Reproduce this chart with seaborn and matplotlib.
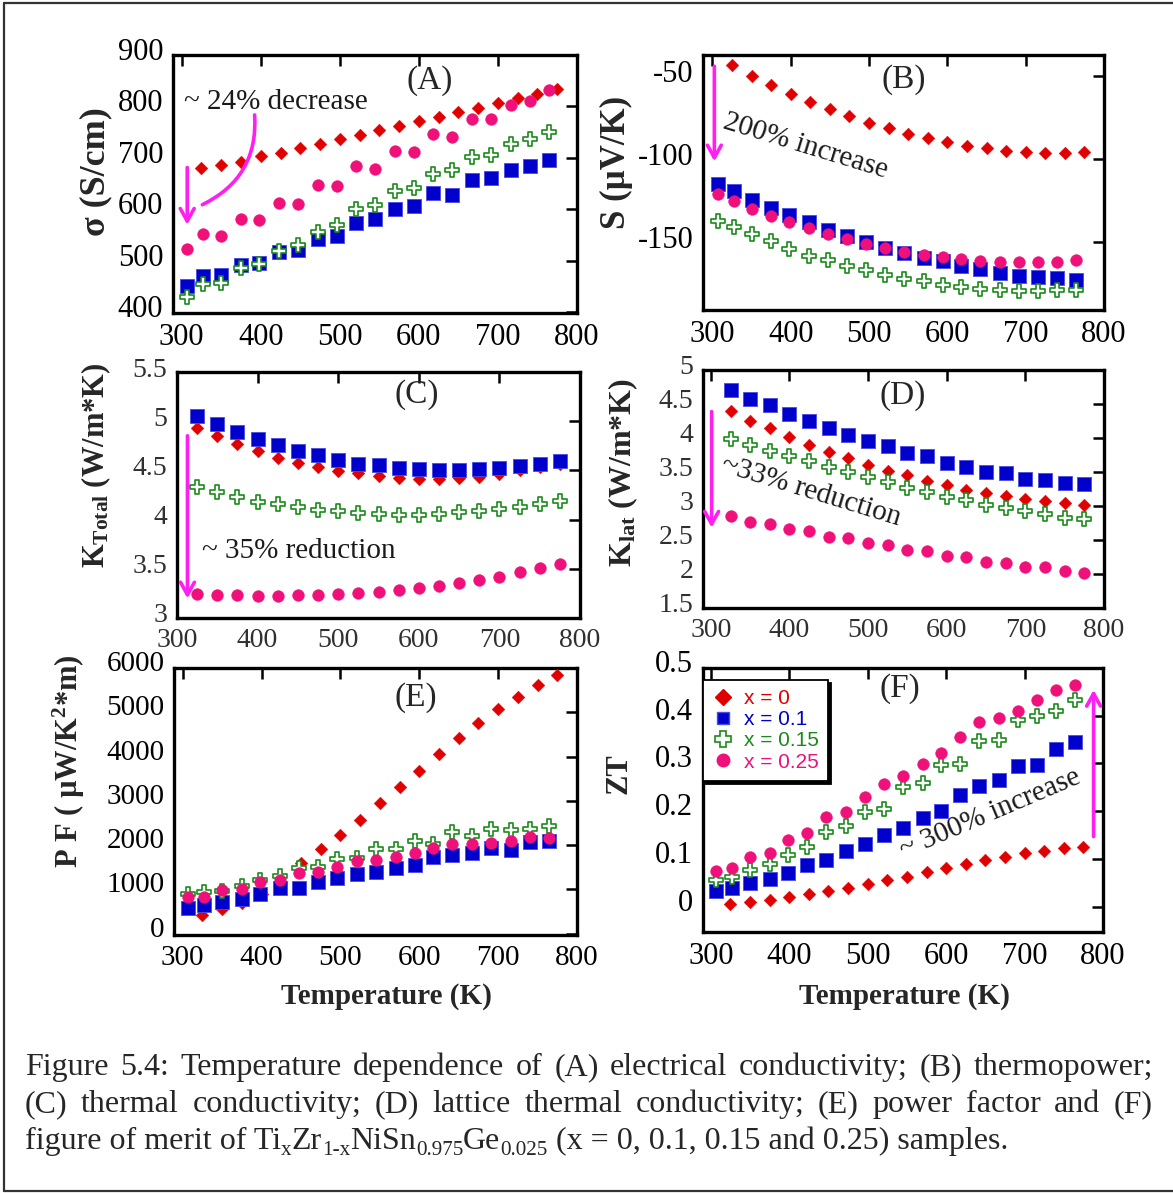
import numpy as np
import pandas as pd
import matplotlib
matplotlib.use("Agg")
import matplotlib.pyplot as plt
import seaborn as sns
from matplotlib.lines import Line2D
from matplotlib.patches import FancyArrowPatch
from matplotlib.ticker import FuncFormatter, FixedLocator
from matplotlib.transforms import ScaledTranslation

# ------------------------------------------------------------------ data
T_X0 = [325, 350, 375, 400, 425, 450, 475, 500, 525, 550, 575, 600, 625, 650, 675, 700, 725, 750, 775]
T_XN = [307, 327, 350, 375, 398, 423, 447, 472, 496, 521, 545, 570, 594, 618, 642, 667, 691, 716, 740, 764]

SERIES_LABELS = ["x = 0", "x = 0.1", "x = 0.15", "x = 0.25"]

# (A) electrical conductivity (S/cm)
SIGMA_X0 = [680, 687, 693, 703, 710, 719, 728, 736, 744, 754, 762, 771, 780, 789, 797, 807, 816, 825, 834]
SIGMA_X01 = [452, 471, 473, 492, 496, 517, 522, 543, 548, 574, 581, 601, 606, 632, 629, 658, 661, 676, 684, 697]
SIGMA_X015 = [431, 456, 458, 486, 494, 520, 531, 557, 570, 600, 608, 635, 642, 668, 677, 702, 705, 728, 736, 751]
SIGMA_X025 = [523, 553, 549, 581, 579, 612, 611, 647, 645, 684, 678, 714, 712, 746, 741, 776, 776, 803, 810, 832]

# (B) thermopower (uV/K)
S_X0 = [-43.4, -50.0, -55.4, -61.0, -65.8, -70.0, -74.0, -78.0, -81.4, -84.8, -87.4, -89.8, -91.8, -93.4, -94.8, -95.6, -96.4, -96.2, -95.8]
S_X01 = [-115.0, -119.4, -124.4, -129.4, -133.4, -138.0, -142.4, -146.4, -150.0, -153.4, -156.4, -159.4, -161.4, -164.4, -166.0, -168.4, -170.0, -170.8, -171.4, -172.4]
S_X015 = [-137.4, -140.8, -145.0, -149.4, -153.8, -158.0, -160.8, -164.0, -166.8, -169.4, -171.8, -173.4, -175.4, -176.8, -177.8, -178.4, -179.0, -179.4, -178.8, -178.8]
S_X025 = [-121.0, -125.0, -129.8, -134.0, -137.8, -141.4, -144.8, -147.8, -150.8, -153.4, -155.8, -157.4, -159.0, -160.0, -161.0, -161.8, -161.8, -161.8, -161.8, -160.8]

# (C) total thermal conductivity (W/m*K)
KTOT_X0 = [4.93, 4.85, 4.77, 4.70, 4.63, 4.58, 4.53, 4.49, 4.47, 4.44, 4.42, 4.41, 4.41, 4.42, 4.43, 4.46, 4.50, 4.53, 4.56]
KTOT_X01 = [5.05, 4.97, 4.89, 4.82, 4.76, 4.70, 4.66, 4.61, 4.57, 4.55, 4.52, 4.51, 4.50, 4.50, 4.51, 4.52, 4.54, 4.57, 4.60]
KTOT_X015 = [4.33, 4.28, 4.23, 4.18, 4.16, 4.13, 4.10, 4.09, 4.07, 4.06, 4.05, 4.05, 4.06, 4.08, 4.09, 4.11, 4.13, 4.16, 4.19]
KTOT_X025 = [3.24, 3.23, 3.23, 3.22, 3.22, 3.23, 3.23, 3.24, 3.25, 3.26, 3.28, 3.30, 3.33, 3.36, 3.39, 3.42, 3.47, 3.51, 3.55]

# (D) lattice thermal conductivity (W/m*K)
KLAT_X0 = [4.39, 4.25, 4.14, 4.02, 3.90, 3.79, 3.70, 3.61, 3.52, 3.45, 3.37, 3.31, 3.24, 3.19, 3.14, 3.10, 3.07, 3.04, 3.01]
KLAT_X01 = [4.71, 4.57, 4.48, 4.35, 4.25, 4.14, 4.05, 3.95, 3.88, 3.78, 3.73, 3.63, 3.58, 3.50, 3.49, 3.40, 3.38, 3.34, 3.32]
KLAT_X015 = [3.99, 3.90, 3.81, 3.73, 3.66, 3.58, 3.50, 3.42, 3.35, 3.26, 3.21, 3.13, 3.09, 3.01, 2.97, 2.92, 2.88, 2.82, 2.81]
KLAT_X025 = [2.85, 2.77, 2.74, 2.66, 2.63, 2.55, 2.53, 2.45, 2.43, 2.35, 2.34, 2.26, 2.25, 2.18, 2.16, 2.11, 2.11, 2.05, 2.01]

# (E) power factor (uW/K^2*m)
PF_X0 = [417, 553, 700, 900, 1150, 1590, 1909, 2220, 2576, 2955, 3311, 3674, 4053, 4409, 4750, 5068, 5356, 5606, 5848]
PF_X01 = [583, 644, 720, 780, 886, 1023, 1038, 1174, 1265, 1341, 1402, 1477, 1553, 1742, 1780, 1818, 1932, 1894, 2061, 2098]
PF_X015 = [886, 947, 970, 1083, 1212, 1311, 1477, 1515, 1682, 1705, 1909, 1909, 2098, 2023, 2288, 2212, 2364, 2348, 2364, 2439]
PF_X025 = [833, 833, 985, 1000, 1174, 1212, 1364, 1386, 1515, 1644, 1667, 1727, 1818, 1932, 2030, 2030, 2045, 2098, 2174, 2159]

# (F) figure of merit ZT
ZT_X0 = [0.006, 0.009, 0.014, 0.021, 0.026, 0.032, 0.040, 0.047, 0.056, 0.063, 0.072, 0.081, 0.089, 0.098, 0.105, 0.112, 0.117, 0.122, 0.125]
ZT_X01 = [0.032, 0.040, 0.049, 0.059, 0.070, 0.088, 0.098, 0.117, 0.132, 0.150, 0.164, 0.185, 0.200, 0.235, 0.253, 0.266, 0.294, 0.296, 0.330, 0.344]
ZT_X015 = [0.056, 0.063, 0.076, 0.089, 0.108, 0.125, 0.156, 0.170, 0.198, 0.205, 0.250, 0.259, 0.297, 0.299, 0.347, 0.349, 0.392, 0.399, 0.410, 0.434]
ZT_X025 = [0.075, 0.081, 0.105, 0.112, 0.140, 0.155, 0.188, 0.199, 0.229, 0.256, 0.274, 0.299, 0.322, 0.356, 0.386, 0.396, 0.410, 0.433, 0.453, 0.464]

X_TICKS = [300, 400, 500, 600, 700, 800]

# ------------------------------------------------------------------ style
sns.set_theme(style="white")
plt.rcParams.update({
    "font.family": ["Liberation Serif", "DejaVu Serif"],
    "mathtext.fontset": "custom",
    "mathtext.rm": "Liberation Serif",
    "mathtext.bf": "Liberation Serif:bold",
    "mathtext.it": "Liberation Serif:italic",
    "axes.unicode_minus": False,
    "axes.edgecolor": "black",
    "axes.linewidth": 2.3,
    "xtick.direction": "in",
    "ytick.direction": "in",
    "xtick.top": True,
    "ytick.right": True,
})

RED = "#e00000"
BLUE = "#0000cc"
GREEN = "#1a8a1a"
PINK = "#f0107a"
MAG = "#ff1ff0"

W, H = 1173, 1193
fig = plt.figure(figsize=(W / 100, H / 100), dpi=100)


def px_axes(left, right, top, bottom):
    return fig.add_axes([left / W, 1 - bottom / H, (right - left) / W, (bottom - top) / H])


def draw_series(ax, temps, values):
    styles = [
        dict(marker="D", s=42, color=RED, edgecolor=RED, linewidth=0.3),
        dict(marker="s", s=90, color=BLUE, edgecolor="#4a4ae6", linewidth=0.6),
        dict(marker="P", s=110, facecolor="white", edgecolor=GREEN, linewidth=1.2),
        dict(marker="o", s=72, color=PINK, edgecolor=PINK, linewidth=0.3),
    ]
    for z, (st, T, v, lab) in enumerate(zip(styles, temps, values, SERIES_LABELS)):
        df = pd.DataFrame({"T": T, "val": v, "sample": lab})
        sns.scatterplot(data=df, x="T", y="val", ax=ax, legend=False, zorder=3 + z, **st)
    ax.set_xlabel("")
    ax.set_ylabel("")


def style_axes(ax, xlim, ylim, yticks, fs=22, fmt="%g", color="black", lift=6):
    ax.set_xlim(*xlim)
    ax.set_ylim(*ylim)
    ax.xaxis.set_major_locator(FixedLocator(X_TICKS))
    ax.yaxis.set_major_locator(FixedLocator(yticks))
    ax.yaxis.set_major_formatter(FuncFormatter(lambda v, p: fmt % v))
    ax.xaxis.set_major_formatter(FuncFormatter(lambda v, p: "%d" % v))
    ax.tick_params(axis="both", which="major", length=8, width=1.8, color="black",
                   labelsize=fs, labelcolor=color, pad=7, top=True, right=True)
    for sp in ax.spines.values():
        sp.set_visible(True)
        sp.set_linewidth(2.4)
        sp.set_color("black")
    off = ScaledTranslation(0, lift / 100, fig.dpi_scale_trans)
    for t in ax.yaxis.get_major_ticks():
        t.label1.set_transform(t.label1.get_transform() + off)


def set_ylab(ax, text, xf, yf, fs=22):
    ax.set_ylabel(text, fontsize=fs, fontweight="bold")
    ax.yaxis.label.set_va("center")
    ax.yaxis.set_label_coords(xf, yf)


def set_xlab(ax, text, xf, yf, fs=21):
    ax.set_xlabel(text, fontsize=fs, fontweight="bold")
    ax.xaxis.label.set_va("center")
    ax.xaxis.set_label_coords(xf, yf)


def arrow(ax, p0, p1):
    a = FancyArrowPatch(p0, p1, arrowstyle="->,head_length=9,head_width=5",
                        color=MAG, lw=2.6, mutation_scale=1, zorder=10)
    ax.add_patch(a)


ann_font = dict(fontsize=21, color="#1a1a1a")

# ---------------- (A)
axA = px_axes(173, 577, 55, 313)
draw_series(axA, [T_X0, T_XN, T_XN, T_XN], [SIGMA_X0, SIGMA_X01, SIGMA_X015, SIGMA_X025])
style_axes(axA, (289, 800), (399, 900), [400, 500, 600, 700, 800, 900])
set_ylab(axA, "σ (S/cm)", -0.19, 0.55, fs=26)
axA.text(614, 851, "(A)", fontsize=24, ha="center", va="center")
axA.text(303, 809, "~ 24% decrease", ha="left", va="center", **ann_font)
arrow(axA, (307, 687), (307, 565))
axA.add_patch(FancyArrowPatch((392, 789), (323, 607), connectionstyle="arc3,rad=-0.35",
                              arrowstyle="-", color=MAG, lw=2.6, zorder=10))

# ---------------- (B)
axB = px_axes(703, 1104, 55, 310)
draw_series(axB, [T_X0, T_XN, T_XN, T_XN], [S_X0, S_X01, S_X015, S_X025])
style_axes(axB, (288, 800), (-190.6, -37.4), [-150, -100, -50], lift=5)
set_ylab(axB, "S (µV/K)", -0.215, 0.58, fs=25)
axB.text(544, -52.4, "(B)", fontsize=24, ha="center", va="center")
axB.text(419, -92, "200% increase", ha="center", va="center", rotation=-17,
         rotation_mode="anchor", **ann_font)
arrow(axB, (302.5, -42.5), (302.5, -103))

# ---------------- (C)
axC = px_axes(177, 580, 372, 618)
draw_series(axC, [T_X0, T_X0, T_X0, T_X0], [KTOT_X0, KTOT_X01, KTOT_X015, KTOT_X025])
style_axes(axC, (300, 800), (3, 5.5), [3, 3.5, 4, 4.5, 5, 5.5], fs=20, color="#303030", lift=5)
set_ylab(axC, r"$\mathbf{K_{Total}}$ (W/m*K)", -0.2, 0.62)
axC.text(597, 5.27, "(C)", fontsize=24, ha="center", va="center")
axC.text(331, 3.68, "~ 35% reduction", ha="left", va="center", **ann_font)
arrow(axC, (313, 4.88), (313, 3.17))

# ---------------- (D)
axD = px_axes(703, 1104, 370, 608)
draw_series(axD, [T_X0, T_X0, T_X0, T_X0], [KLAT_X0, KLAT_X01, KLAT_X015, KLAT_X025])
style_axes(axD, (290, 800), (1.5, 5), [1.5, 2, 2.5, 3, 3.5, 4, 4.5, 5], fs=20, color="#303030", lift=5)
set_ylab(axD, r"$\mathbf{K_{lat}}$ (W/m*K)", -0.2, 0.57, fs=23)
axD.text(544, 4.62, "(D)", fontsize=24, ha="center", va="center")
axD.text(428, 3.22, "~33% reduction", ha="center", va="center", rotation=-17,
         rotation_mode="anchor", **ann_font)
arrow(axD, (301, 4.43), (301, 2.64))

# ---------------- (E)
axE = px_axes(174, 577, 668, 935)
draw_series(axE, [T_X0, T_XN, T_XN, T_XN], [PF_X0, PF_X01, PF_X015, PF_X025])
style_axes(axE, (289, 800), (-30, 6000), [0, 1000, 2000, 3000, 4000, 5000, 6000], fs=21, lift=7)
set_ylab(axE, r"P F ( µW/K$^{\mathbf{2}}$*m)", -0.26, 0.65)
set_xlab(axE, "Temperature (K)", 0.527, -0.232)
axE.text(595, 5340, "(E)", fontsize=24, ha="center", va="center")

# ---------------- (F)
axF = px_axes(703, 1103, 668, 932)
draw_series(axF, [T_X0, T_XN, T_XN, T_XN], [ZT_X0, ZT_X01, ZT_X015, ZT_X025])
style_axes(axF, (290, 800), (-0.053, 0.5), [0, 0.1, 0.2, 0.3, 0.4, 0.5], lift=7)
set_ylab(axF, "ZT", -0.21, 0.6)
set_xlab(axF, "Temperature (K)", 0.503, -0.246)
axF.text(541, 0.457, "(F)", fontsize=24, ha="center", va="center")
axF.text(656, 0.195, "~ 300% increase", ha="center", va="center", rotation=23,
         rotation_mode="anchor", **ann_font)
arrow(axF, (788, 0.141), (788, 0.46))

handles = [
    Line2D([], [], ls="none", marker="D", ms=8, color=RED),
    Line2D([], [], ls="none", marker="s", ms=9, color=BLUE, mec="#4a4ae6"),
    Line2D([], [], ls="none", marker="P", ms=11, mfc="white", mec=GREEN, mew=1.2),
    Line2D([], [], ls="none", marker="o", ms=9, color=PINK),
]
leg = axF.legend(handles, SERIES_LABELS, loc="upper left", bbox_to_anchor=(0.0, 0.955),
                 prop={"family": "Liberation Sans", "size": 15},
                 labelcolor=[RED, BLUE, GREEN, PINK], frameon=True, fancybox=False,
                 edgecolor="black", framealpha=1, shadow={"color": "black", "alpha": 1},
                 handlelength=1.0, handletextpad=0.5, labelspacing=0.1,
                 borderpad=0.45, borderaxespad=0)
leg.get_frame().set_linewidth(1.3)
leg.set_zorder(20)

# ------------------------------------------------------------------ border
for xs, ys in [((4, 4), (3, 1191)), ((4, 1173), (3, 3)), ((4, 1173), (1191, 1191))]:
    fig.add_artist(Line2D([x / W for x in xs], [1 - y / H for y in ys], color="#333333", lw=1.6))

# ------------------------------------------------------------------ caption
CAP_FS = 23
renderer = fig.canvas.get_renderer()


def text_w(s, size=CAP_FS):
    t = fig.text(0, 0, s, fontsize=size)
    w = t.get_window_extent(renderer).width
    t.remove()
    return w


def justified(line, base_y, x0=25, x1=1153):
    words = line.split(" ")
    ws = [text_w(w) for w in words]
    gap = (x1 - x0 - sum(ws)) / (len(words) - 1)
    x = x0
    for w, wd in zip(words, ws):
        fig.text(x / W, 1 - base_y / H, w, fontsize=CAP_FS, va="baseline", ha="left")
        x += wd + gap


justified("Figure 5.4: Temperature dependence of (A) electrical conductivity; (B) thermopower;", 1075)
justified("(C) thermal conductivity; (D) lattice thermal conductivity; (E) power factor and (F)", 1112)

space = text_w("a a") - text_w("aa")
segs = [("figure of merit of Ti", 0), ("x", 1), ("Zr", 0), ("1-x", 1), ("NiSn", 0), ("0.975", 1),
        ("Ge", 0), ("0.025", 1), ("(x = 0, 0.1, 0.15 and 0.25) samples.", 2)]
x = 25
base3 = 1149
for s, kind in segs:
    if kind == 2:
        x += space
    size = CAP_FS * 0.66 if kind == 1 else CAP_FS
    dy = 6 if kind == 1 else 0
    fig.text(x / W, 1 - (base3 + dy) / H, s, fontsize=size, va="baseline", ha="left")
    x += text_w(s, size)

fig.savefig("out.png", dpi=100)
